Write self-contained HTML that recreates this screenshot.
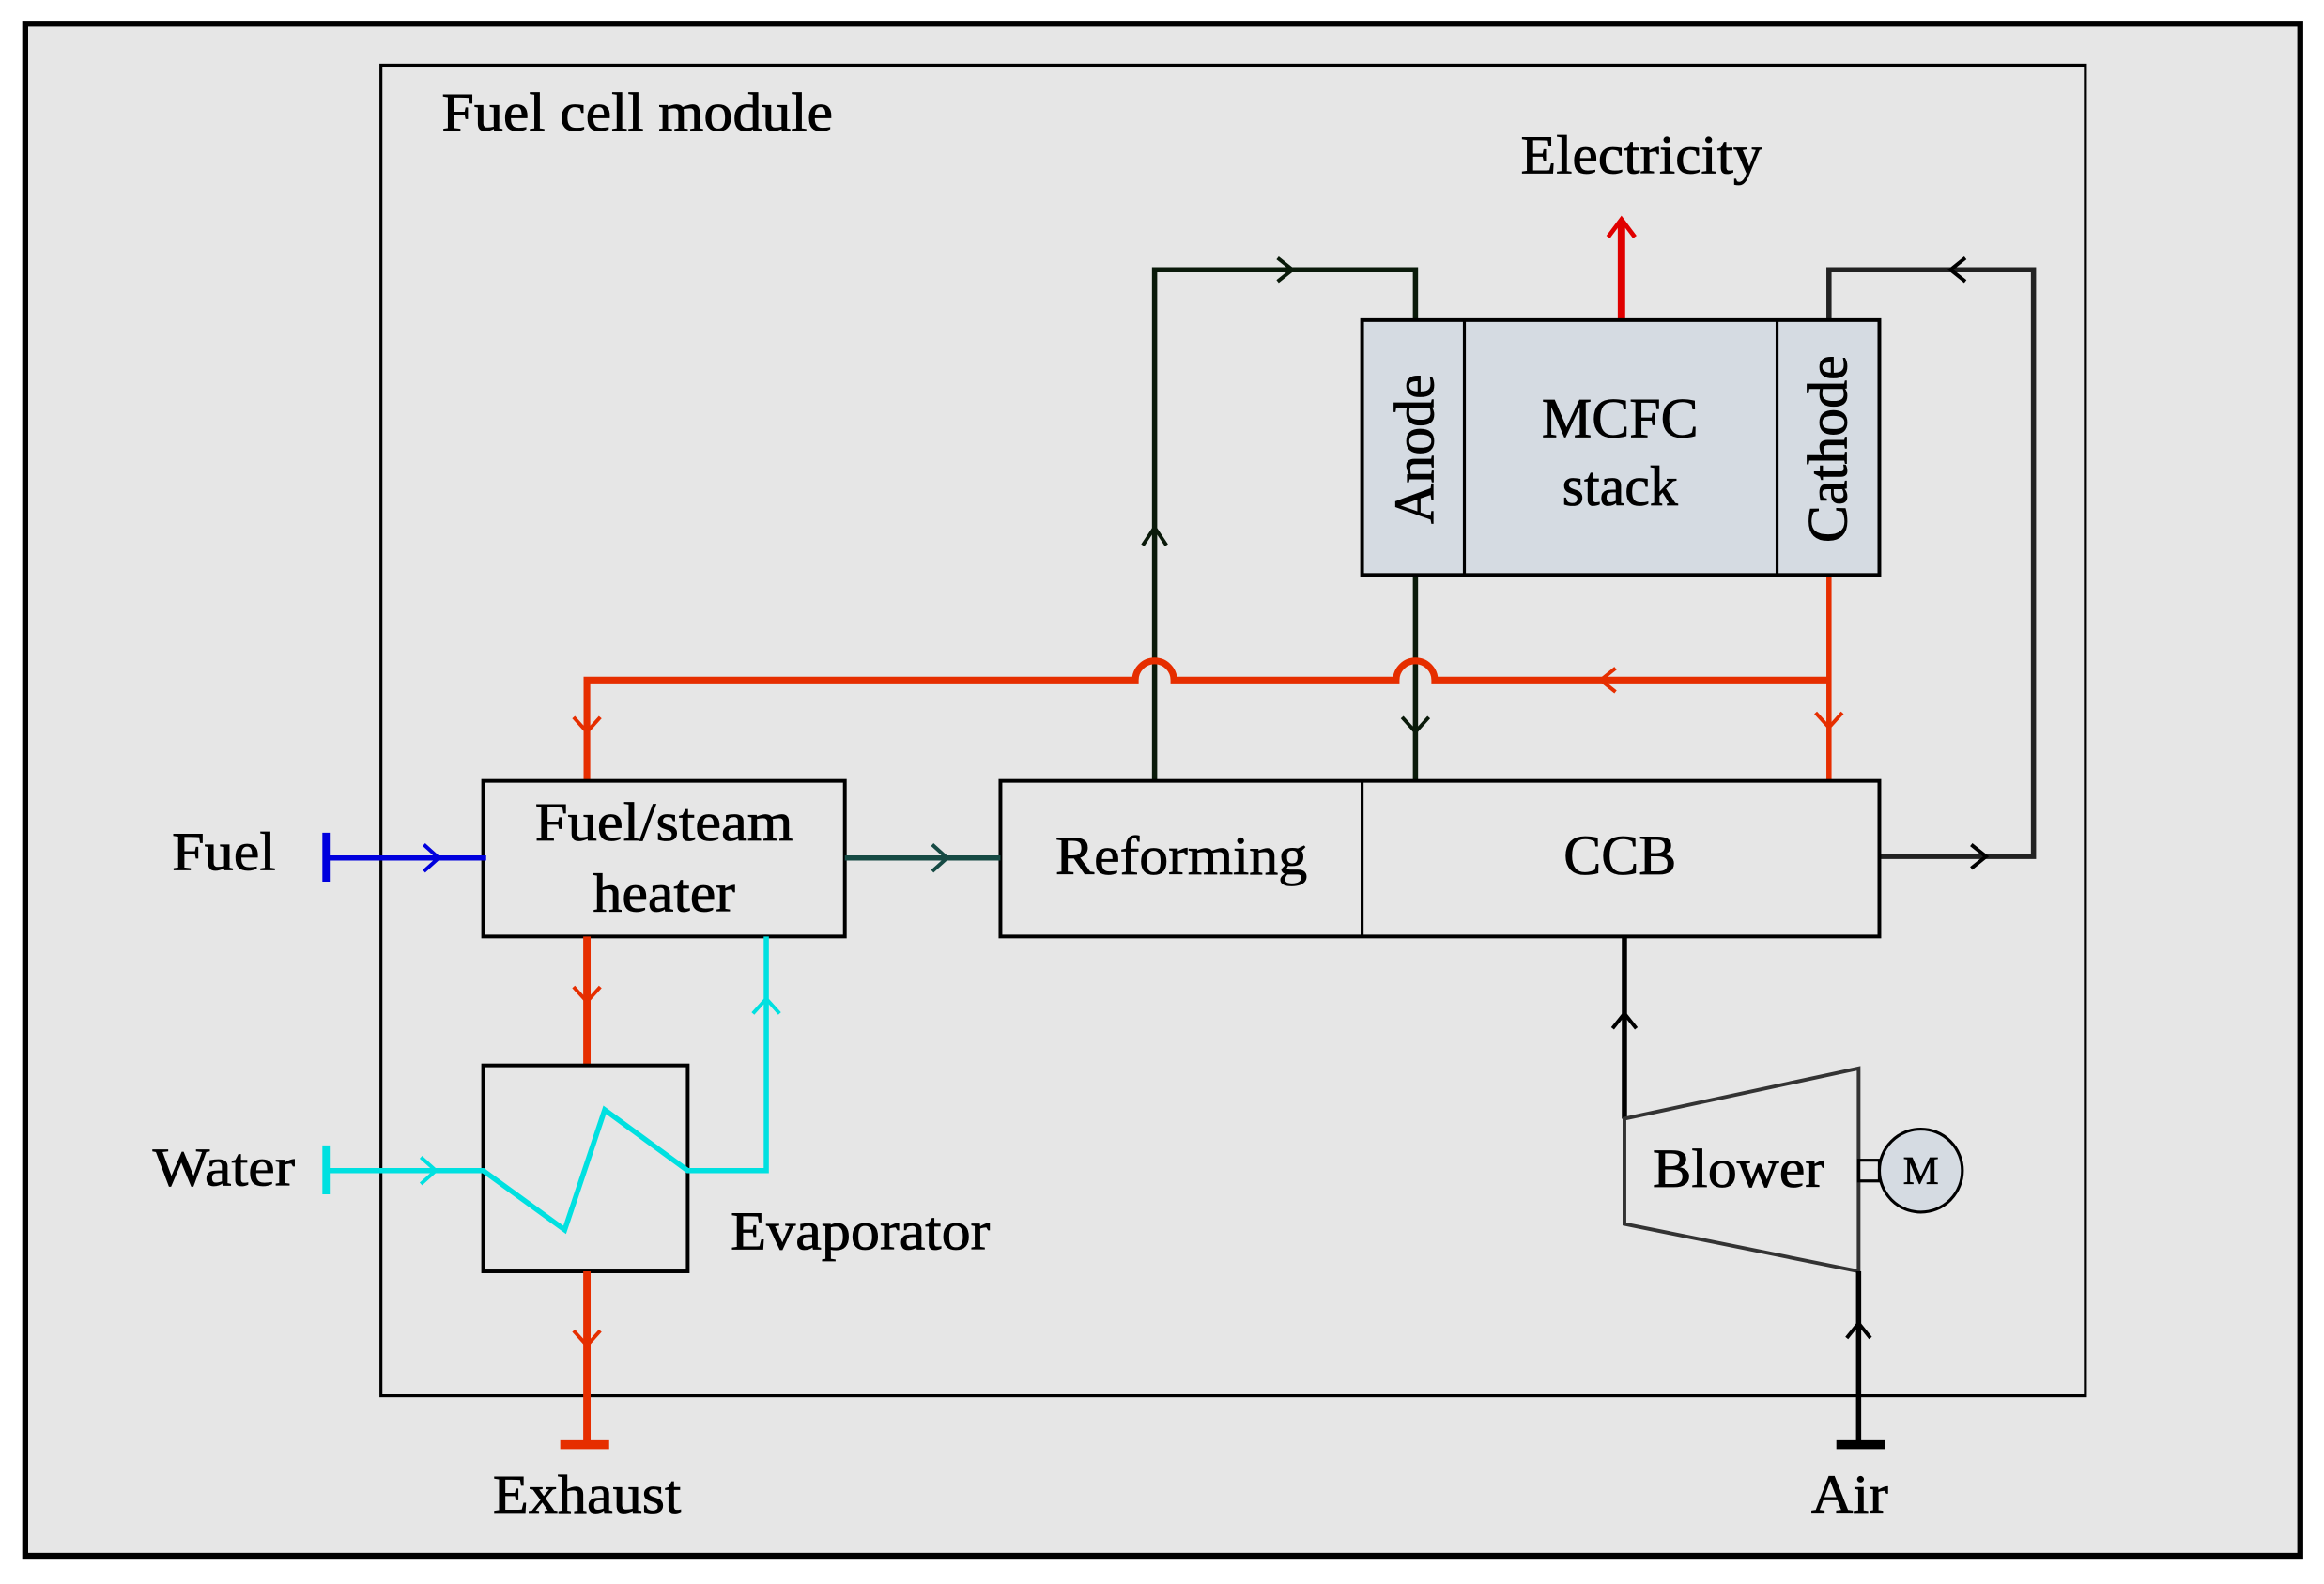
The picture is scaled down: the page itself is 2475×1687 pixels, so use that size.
<!DOCTYPE html>
<html><head><meta charset="utf-8"><style>
html,body{margin:0;padding:0;background:#fff;}
svg{display:block;}
text{font-family:"Liberation Serif",serif;fill:#000;stroke:#000;stroke-width:0.5;}
</style></head><body>
<svg width="2475" height="1687" viewBox="0 0 1568 1069" preserveAspectRatio="none" xmlns="http://www.w3.org/2000/svg">
<rect x="0" y="0" width="1568" height="1069" fill="#fff"/>
<rect x="17" y="16" width="1535" height="1034" fill="#e6e6e6" stroke="#000" stroke-width="4"/>
<rect x="257" y="44" width="1150" height="898" fill="none" stroke="#000" stroke-width="2"/>
<text x="298" y="88" font-size="37" textLength="264" lengthAdjust="spacingAndGlyphs">Fuel cell module</text>
<text x="1026" y="117" font-size="37" textLength="163" lengthAdjust="spacingAndGlyphs">Electricity</text>

<line x1="1094" y1="216" x2="1094" y2="150" stroke="#e00000" stroke-width="5"/>
<polyline points="1085,160 1094,148 1103,160" fill="none" stroke="#e00000" stroke-width="3"/>

<polyline points="955,216 955,182 779,182 779,527" fill="none" stroke="#0a1a0a" stroke-width="3.5"/>
<polyline points="862,174 872,182 862,190" fill="none" stroke="#0a1a0a" stroke-width="2.5"/>
<polyline points="771,368 779,356 787,368" fill="none" stroke="#0a1a0a" stroke-width="2.5"/>
<polyline points="1234,216 1234,182 1372,182 1372,578 1268,578" fill="none" stroke="#222" stroke-width="3.5"/>
<polyline points="1326,174 1316,182 1326,190" fill="none" stroke="#000" stroke-width="2.5"/>
<polyline points="1330,570 1340,578 1330,586" fill="none" stroke="#000" stroke-width="2.5"/>
<line x1="955" y1="388" x2="955" y2="527" stroke="#0a1a0a" stroke-width="3.5"/>
<polyline points="946,484 955,494 964,484" fill="none" stroke="#0a1a0a" stroke-width="2.5"/>

<line x1="1234" y1="388" x2="1234" y2="527" stroke="#e62e00" stroke-width="3.5"/>
<polyline points="1225,481 1234,491 1243,481" fill="none" stroke="#e62e00" stroke-width="2.5"/>
<path d="M1234,459 L968,459 A13,13 0 0 0 942,459 L792,459 A13,13 0 0 0 766,459 L396,459 L396,527" fill="none" stroke="#e62e00" stroke-width="4.5"/>
<polyline points="1090,451 1080,459 1090,467" fill="none" stroke="#e62e00" stroke-width="2.5"/>
<polyline points="387,484 396,494 405,484" fill="none" stroke="#e62e00" stroke-width="2.5"/>

<rect x="919" y="216" width="349" height="172" fill="#d5dbe2" stroke="#000" stroke-width="2.5"/>
<line x1="988" y1="216" x2="988" y2="388" stroke="#000" stroke-width="2"/>
<line x1="1199" y1="216" x2="1199" y2="388" stroke="#000" stroke-width="2"/>
<text x="1093" y="295" font-size="38" text-anchor="middle">MCFC</text>
<text x="1093" y="341" font-size="38" text-anchor="middle">stack</text>
<text transform="translate(967,303) rotate(-90)" font-size="38" text-anchor="middle">Anode</text>
<text transform="translate(1246,303) rotate(-90)" font-size="38" text-anchor="middle">Cathode</text>

<rect x="326" y="527" width="244" height="105" fill="none" stroke="#000" stroke-width="2.5"/>
<text x="448" y="567" font-size="37" text-anchor="middle" textLength="174" lengthAdjust="spacingAndGlyphs">Fuel/steam</text>
<text x="448" y="615" font-size="37" text-anchor="middle" textLength="96" lengthAdjust="spacingAndGlyphs">heater</text>
<rect x="675" y="527" width="593" height="105" fill="none" stroke="#000" stroke-width="2.5"/>
<line x1="919" y1="527" x2="919" y2="632" stroke="#000" stroke-width="2"/>
<text x="797" y="590" font-size="37" text-anchor="middle" textLength="170" lengthAdjust="spacingAndGlyphs">Reforming</text>
<text x="1093" y="590" font-size="38" text-anchor="middle">CCB</text>

<text x="151" y="587" font-size="37" text-anchor="middle" textLength="70" lengthAdjust="spacingAndGlyphs">Fuel</text>
<line x1="220" y1="562" x2="220" y2="595" stroke="#0000dd" stroke-width="5"/>
<line x1="220" y1="579" x2="328" y2="579" stroke="#0000dd" stroke-width="3.5"/>
<polyline points="286,570 296,579 286,588" fill="none" stroke="#0000dd" stroke-width="2.5"/>
<line x1="570" y1="579" x2="675" y2="579" stroke="#164a44" stroke-width="3.5"/>
<polyline points="629,570 639,579 629,588" fill="none" stroke="#164a44" stroke-width="2.5"/>

<line x1="396" y1="632" x2="396" y2="719" stroke="#e62e00" stroke-width="5"/>
<polyline points="387,666 396,676 405,666" fill="none" stroke="#e62e00" stroke-width="2.5"/>
<rect x="326" y="719" width="138" height="139" fill="none" stroke="#000" stroke-width="2.5"/>
<line x1="396" y1="858" x2="396" y2="975" stroke="#e62e00" stroke-width="5"/>
<polyline points="387,898 396,908 405,898" fill="none" stroke="#e62e00" stroke-width="2.5"/>
<line x1="378" y1="975" x2="411" y2="975" stroke="#e62e00" stroke-width="6"/>
<text x="396" y="1021" font-size="37" text-anchor="middle" textLength="127" lengthAdjust="spacingAndGlyphs">Exhaust</text>

<text x="151" y="800" font-size="37" text-anchor="middle" textLength="96" lengthAdjust="spacingAndGlyphs">Water</text>
<line x1="220" y1="773" x2="220" y2="806" stroke="#00e0e0" stroke-width="5"/>
<polyline points="220,790 326,790 381,830 408,749 464,790 517,790 517,632" fill="none" stroke="#00e0e0" stroke-width="3.5"/>
<polyline points="284,781 294,790 284,799" fill="none" stroke="#00e0e0" stroke-width="2.5"/>
<polyline points="508,684 517,674 526,684" fill="none" stroke="#00e0e0" stroke-width="2.5"/>
<text x="493" y="843" font-size="37" textLength="175" lengthAdjust="spacingAndGlyphs">Evaporator</text>

<line x1="1096" y1="632" x2="1096" y2="755" stroke="#000" stroke-width="3.5"/>
<polyline points="1088,694 1096,684 1104,694" fill="none" stroke="#000" stroke-width="2.5"/>
<polygon points="1096,755 1254,721 1254,858 1096,826" fill="none" stroke="#333" stroke-width="2.5"/>
<text x="1173" y="801" font-size="37" text-anchor="middle" textLength="116" lengthAdjust="spacingAndGlyphs">Blower</text>
<rect x="1254" y="783" width="14" height="14" fill="none" stroke="#000" stroke-width="2"/>
<circle cx="1296" cy="790" r="28" fill="#d5dbe2" stroke="#000" stroke-width="2"/>
<text x="1296" y="799" font-size="27" text-anchor="middle">M</text>
<line x1="1254" y1="858" x2="1254" y2="975" stroke="#000" stroke-width="3.5"/>
<polyline points="1246,903 1254,893 1262,903" fill="none" stroke="#000" stroke-width="2.5"/>
<line x1="1239" y1="975" x2="1272" y2="975" stroke="#000" stroke-width="6"/>
<text x="1248" y="1021" font-size="37" text-anchor="middle" textLength="52" lengthAdjust="spacingAndGlyphs">Air</text>
</svg>
</body></html>
